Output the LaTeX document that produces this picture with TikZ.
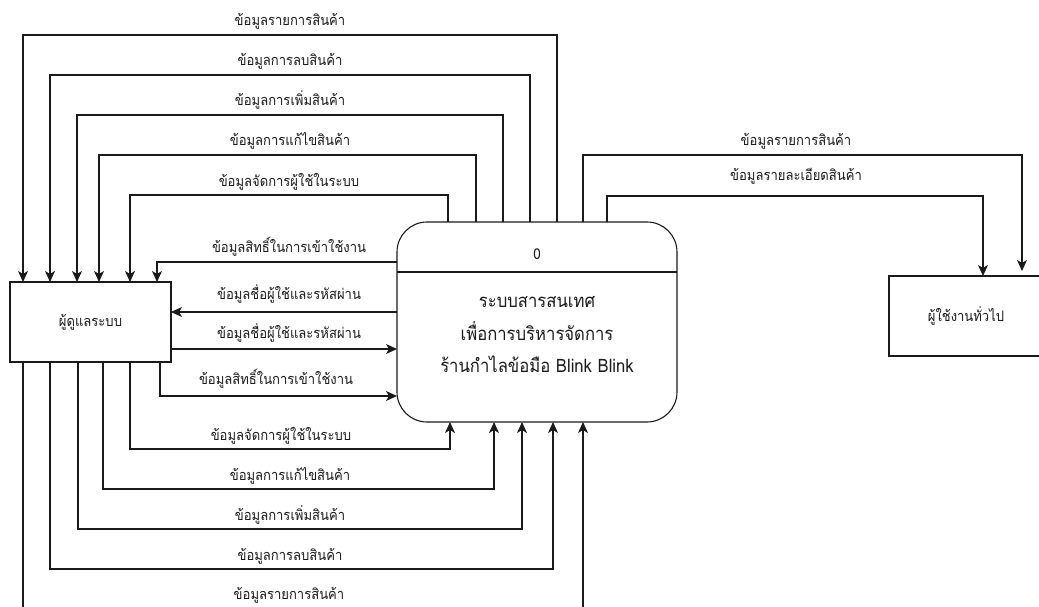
\documentclass[tikz,border=0pt]{standalone}
\usepackage{fontspec}
\newfontfamily\thaifont[Script=Thai,FakeStretch=0.9]{Loma}
\usetikzlibrary{arrows.meta,calc}

\definecolor{ink}{HTML}{1A1A1A}

\tikzset{
  flow/.style={draw=ink, line width=1.1pt, -{Stealth[length=11pt,width=10pt,inset=3pt]}},
  entity/.style={draw=ink, line width=1.1pt, outer sep=0pt, inner sep=0pt,
    text=ink, font=\thaifont\fontsize{14.5}{16}\selectfont},
  process/.style={draw=ink, line width=1.1pt, outer sep=0pt, rounded corners=30pt,
    minimum width=280pt, minimum height=200pt},
  lbl/.style={text=ink, font=\thaifont\fontsize{14.5}{16}\selectfont, anchor=base, inner sep=0pt},
  ptext/.style={text=ink, font=\thaifont\fontsize{18.5}{32.5}\selectfont, align=center, inner sep=0pt},
}

\begin{document}
\begin{tikzpicture}[x=1pt,y=-1pt]
  \useasboundingbox (0,0) rectangle (1039,607);
  \clip (0,0) rectangle (1039,607);

  % external entities and the process
  \node[entity, minimum width=161pt, minimum height=80pt] (admin) at (90.5,322) {ผู้ดูแลระบบ};
  \node[entity, minimum width=154pt, minimum height=80pt] (user) at (966,316) {ผู้ใช้งานทั่วไป};
  \node[process] (proc) at (537,322) {};
  \draw[draw=ink, line width=1.1pt] ($(proc.north west)+(0,50)$) coordinate (divw) -- ($(proc.north east)+(0,50)$) coordinate (dive);
  \node[text=ink, font=\thaifont\fontsize{15}{17}\selectfont, inner sep=0pt] (pid) at (537,254) {0};
  \node[ptext] (ptitle) at (537,335) {ระบบสารสนเทศ\\เพื่อการบริหารจัดการ\\ร้านกำไลข้อมือ Blink Blink};

  % flows from the process to the administrator (over the top)
  \draw[flow] ($(proc.north west)+(160,0)$) |- (23,35) -- ($(admin.north west)+(13,0)$);
  \draw[flow] ($(proc.north west)+(133,0)$) |- (50,75) -- ($(admin.north west)+(40,0)$);
  \draw[flow] ($(proc.north west)+(106,0)$) |- (77,115) -- ($(admin.north west)+(67,0)$);
  \draw[flow] ($(proc.north west)+(79,0)$) |- (99,155) -- ($(admin.north west)+(89,0)$);
  \draw[flow] ($(proc.north west)+(51,0)$) |- (130,195) -- ($(admin.north west)+(120,0)$);
  \node[lbl] (t1) at (290,26) {ข้อมูลรายการสินค้า};
  \node[lbl] (t2) at (290,66) {ข้อมูลการลบสินค้า};
  \node[lbl] (t3) at (290,106) {ข้อมูลการเพิ่มสินค้า};
  \node[lbl] (t4) at (290,146) {ข้อมูลการแก้ไขสินค้า};
  \node[lbl] (t5) at (289,186) {ข้อมูลจัดการผู้ใช้ในระบบ};

  % login exchange between administrator and process
  \draw[flow] ($(proc.north west)+(0,40)$) -| ($(admin.north west)+(147,0)$);
  \draw[flow] ($(proc.north west)+(0,90)$) -- ($(admin.north east)+(0,30)$);
  \draw[flow] ($(admin.north east)+(0,67)$) -- ($(proc.north west)+(0,127)$);
  \draw[flow] ($(admin.south west)+(150,0)$) |- ($(proc.north west)+(0,174)$);
  \node[lbl] (m1) at (289,252) {ข้อมูลสิทธิ์ในการเข้าใช้งาน};
  \node[lbl] (m2) at (289,299) {ข้อมูลชื่อผู้ใช้และรหัสผ่าน};
  \node[lbl] (m3) at (289,338) {ข้อมูลชื่อผู้ใช้และรหัสผ่าน};
  \node[lbl] (m4) at (276,384) {ข้อมูลสิทธิ์ในการเข้าใช้งาน};

  % flows from the administrator to the process (underneath)
  \draw[flow] ($(admin.south west)+(120,0)$) |- (450,449) -- ($(proc.south west)+(53,0)$);
  \draw[flow] ($(admin.south west)+(93,0)$) |- (494,489) -- ($(proc.south west)+(97,0)$);
  \draw[flow] ($(admin.south west)+(68,0)$) |- (522,529) -- ($(proc.south west)+(125,0)$);
  \draw[flow] ($(admin.south west)+(40,0)$) |- (553,569) -- ($(proc.south west)+(156,0)$);
  \draw[flow] ($(admin.south west)+(13,0)$) |- (583,610) -- ($(proc.south west)+(186,0)$);
  \node[lbl] (b1) at (281,440) {ข้อมูลจัดการผู้ใช้ในระบบ};
  \node[lbl] (b2) at (290,480) {ข้อมูลการแก้ไขสินค้า};
  \node[lbl] (b3) at (290,520) {ข้อมูลการเพิ่มสินค้า};
  \node[lbl] (b4) at (290,560) {ข้อมูลการลบสินค้า};
  \node[lbl] (b5) at (289,599) {ข้อมูลรายการสินค้า};

  % flows from the process to the general user
  \draw[flow] ($(proc.north west)+(186,0)$) |- (1022,155) -- ($(user.north west)+(133,-5)$);
  \draw[flow] ($(proc.north west)+(210,0)$) |- (983,196) -- ($(user.north west)+(94,0)$);
  \node[lbl] (r1) at (796,146) {ข้อมูลรายการสินค้า};
  \node[lbl] (r2) at (796,181) {ข้อมูลรายละเอียดสินค้า};
\end{tikzpicture}
\end{document}
